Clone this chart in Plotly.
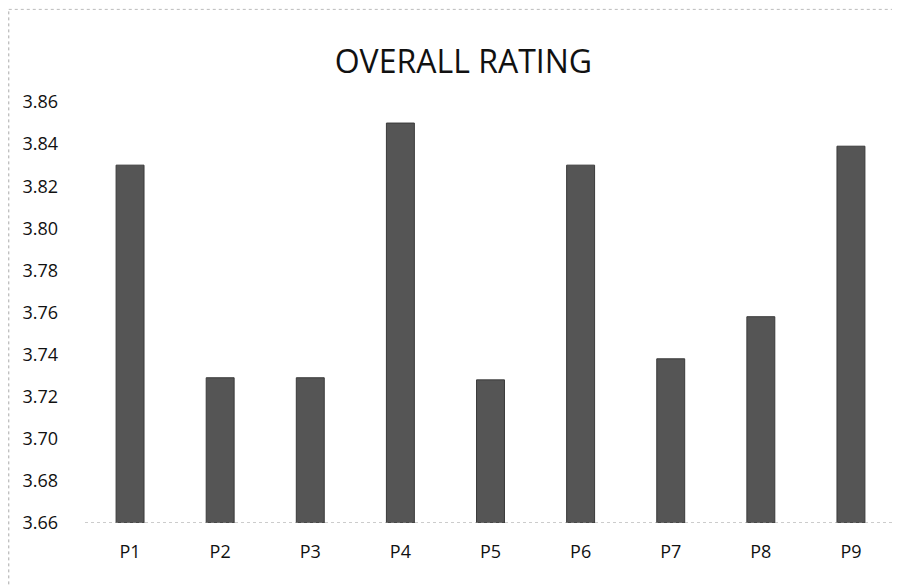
import plotly.graph_objects as go

categories = ["P1", "P2", "P3", "P4", "P5", "P6", "P7", "P8", "P9"]
ratings = [3.83, 3.729, 3.729, 3.85, 3.728, 3.83, 3.738, 3.758, 3.839]
axis_base = 3.66
tick_vals = [3.66, 3.68, 3.70, 3.72, 3.74, 3.76, 3.78, 3.80, 3.82, 3.84, 3.86]
tick_text = [f"{v:.2f}" for v in tick_vals]

fig = go.Figure(
    go.Bar(
        x=categories,
        y=[r - axis_base for r in ratings],
        base=axis_base,
        marker=dict(color="#555555", line=dict(color="#3a3a3a", width=1)),
        width=0.31,
    )
)

fig.update_layout(
    width=900,
    height=585,
    paper_bgcolor="white",
    plot_bgcolor="white",
    margin=dict(l=77, r=12, t=94, b=70, autoexpand=False),
    showlegend=False,
    title=dict(
        text="OVERALL RATING",
        x=0.506,
        xanchor="center",
        y=0.908,
        yanchor="middle",
        font=dict(family="Open Sans, Liberation Sans, sans-serif", size=32, color="#111111"),
    ),
    font=dict(family="Open Sans, Liberation Sans, sans-serif", color="#111111"),
)
fig.update_yaxes(
    range=[3.66, 3.86],
    tickvals=tick_vals,
    ticktext=tick_text,
    showgrid=False,
    zeroline=False,
    showline=False,
    automargin=False,
    tickfont=dict(size=18),
    ticklabelstandoff=26,
)
fig.update_xaxes(
    showgrid=False,
    showline=False,
    automargin=False,
    tickfont=dict(size=18),
    ticklabelstandoff=16,
)
fig.add_shape(type="line", xref="paper", yref="y", x0=0, x1=1, y0=3.66, y1=3.66,
              line=dict(color="#999999", width=1, dash="dot"))
fig.add_shape(type="line", xref="paper", yref="paper", x0=-0.094, x1=-0.094, y0=-0.16, y1=1.22,
              line=dict(color="#aaaaaa", width=1, dash="dot"))
fig.add_shape(type="line", xref="paper", yref="paper", x0=-0.094, x1=1.014, y0=1.22, y1=1.22,
              line=dict(color="#bbbbbb", width=1, dash="dot"))

fig.write_html("out.html")
